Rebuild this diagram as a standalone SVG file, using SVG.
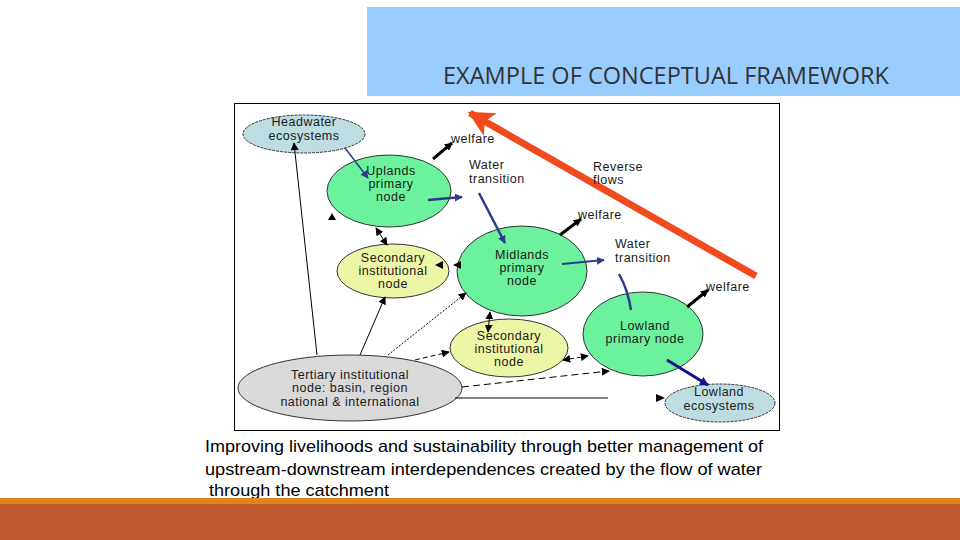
<svg xmlns="http://www.w3.org/2000/svg" width="960" height="540" viewBox="0 0 960 540">
<style>
.lbl{font-family:"Liberation Sans",Arial,sans-serif;font-size:12.5px;letter-spacing:0.5px;fill:#1a1a1a;text-anchor:middle}
.free{font-family:"Liberation Sans",Arial,sans-serif;font-size:12.5px;letter-spacing:0.5px;fill:#1a1a1a}
.ell{stroke:#333;stroke-width:1}
.green{fill:#6CF29C}
.yellow{fill:#EDF5A6}
.blue{fill:#BEDDE3}
.grey{fill:#D9D9D9}
.k{stroke:#000;fill:none}
.b{stroke:#2E3A8C;fill:none}
.caption{font-family:"Liberation Sans",Arial,sans-serif;font-size:17px;fill:#000}
</style>
<defs>
<marker id="ak" viewBox="0 0 10 10" refX="9" refY="5" markerWidth="8" markerHeight="8" markerUnits="userSpaceOnUse" orient="auto-start-reverse"><path d="M0,0 L10,5 L0,10 z" fill="#000"/></marker>
<marker id="au" viewBox="0 0 10 10" refX="9" refY="5" markerWidth="8" markerHeight="8" markerUnits="userSpaceOnUse" orient="auto"><path d="M0,0 L10,5 L0,10 z" fill="#2E3A8C"/></marker>
<marker id="ad" viewBox="0 0 10 10" refX="9" refY="5" markerWidth="9" markerHeight="9" markerUnits="userSpaceOnUse" orient="auto"><path d="M0,0 L10,5 L0,10 z" fill="#14148C"/></marker>
<marker id="ar" viewBox="0 0 10 10" refX="9" refY="5" markerWidth="26" markerHeight="26" markerUnits="userSpaceOnUse" orient="auto"><path d="M0,0 L10,5 L0,10 L2.5,5 z" fill="#F04A1E"/></marker>
</defs>
<rect x="0" y="0" width="960" height="540" fill="#fff"/>
<g id="title">
<rect x="367" y="7" width="593" height="89" fill="#99CCFF"/>
<text x="666" y="84" font-family="'Open Sans','Liberation Sans',sans-serif" font-size="23" fill="#333" text-anchor="middle" textLength="446" lengthAdjust="spacingAndGlyphs">EXAMPLE OF CONCEPTUAL FRAMEWORK</text>
</g>
<rect id="frame" x="234.5" y="103.5" width="545" height="327" fill="#fff" stroke="#000" stroke-width="1"/>
<g id="headwater">
<ellipse class="ell blue" cx="304" cy="134" rx="61" ry="19" stroke-dasharray="3,1"/>
<text class="lbl" x="304" y="126">Headwater</text>
<text class="lbl" x="304" y="140">ecosystems</text>
</g>
<g id="uplands">
<ellipse class="ell green" cx="389" cy="191" rx="62" ry="36"/>
<text class="lbl" x="391" y="175">Uplands</text>
<text class="lbl" x="391" y="188">primary</text>
<text class="lbl" x="391" y="201">node</text>
</g>
<g id="secondary-left">
<ellipse class="ell yellow" cx="393" cy="271" rx="56" ry="27"/>
<text class="lbl" x="393" y="262">Secondary</text>
<text class="lbl" x="393" y="275">institutional</text>
<text class="lbl" x="393" y="288">node</text>
</g>
<g id="midlands">
<ellipse class="ell green" cx="522" cy="271" rx="65" ry="45"/>
<text class="lbl" x="522" y="259">Midlands</text>
<text class="lbl" x="522" y="272">primary</text>
<text class="lbl" x="522" y="285">node</text>
</g>
<g id="secondary-mid">
<ellipse class="ell yellow" cx="509" cy="348" rx="59" ry="29"/>
<text class="lbl" x="509" y="340">Secondary</text>
<text class="lbl" x="509" y="353">institutional</text>
<text class="lbl" x="509" y="366">node</text>
</g>
<g id="lowland">
<ellipse class="ell green" cx="643" cy="334" rx="60" ry="42"/>
<text class="lbl" x="645" y="330">Lowland</text>
<text class="lbl" x="645" y="343">primary node</text>
</g>
<g id="lowland-eco">
<ellipse class="ell blue" cx="720" cy="403" rx="55" ry="19" stroke-dasharray="3,1"/>
<text class="lbl" x="719" y="396">Lowland</text>
<text class="lbl" x="719" y="410">ecosystems</text>
</g>
<g id="tertiary">
<ellipse class="ell grey" cx="350" cy="388" rx="112" ry="33"/>
<text class="lbl" x="350" y="379">Tertiary institutional</text>
<text class="lbl" x="350" y="392">node: basin, region</text>
<text class="lbl" x="350" y="406">national &amp; international</text>
</g>
<g id="connectors">
<path class="k" d="M317,355 L294,143" stroke-width="1" marker-end="url(#ak)"/>
<polygon points="332,213 328,220 336,220" fill="#000"/>
<path class="b" d="M345,148 L368,178" stroke-width="1.5" marker-end="url(#au)"/>
<path class="k" d="M433,159 L452,143" stroke-width="3" marker-end="url(#ak)"/>
<path class="b" d="M428,200 L462,197" stroke-width="2.5" marker-end="url(#au)"/>
<path class="b" d="M479,193 L505,243" stroke-width="2.5" marker-end="url(#au)"/>
<path class="k" d="M560,235 L581,219" stroke-width="3" marker-end="url(#ak)"/>
<path class="b" d="M562,264 L604,260" stroke-width="2" marker-end="url(#au)"/>
<path class="b" d="M619,274 Q628,290 631,310" stroke-width="2.5"/>
<path class="k" d="M687,307 L708,290" stroke-width="3" marker-end="url(#ak)"/>
<path d="M667,360 L708,385" stroke="#14148C" stroke-width="3" fill="none" marker-end="url(#ad)"/>
<path class="k" d="M376,228 L387,245" stroke-width="1" marker-start="url(#ak)" marker-end="url(#ak)"/>
<polygon points="435,265 443,261 443,269" fill="#000"/>
<polygon points="453,265 461,261 461,269" fill="#000"/>
<path class="k" d="M360,355 L385,297" stroke-width="1" marker-end="url(#ak)"/>
<path class="k" d="M388,355 L466,293" stroke-width="1" stroke-dasharray="2,1.5" marker-end="url(#ak)"/>
<path class="k" d="M415,360 L449,352" stroke-width="1" stroke-dasharray="5,3" marker-end="url(#ak)"/>
<path class="k" d="M490,312 L488,332" stroke-width="1" marker-start="url(#ak)" marker-end="url(#ak)"/>
<path class="k" d="M563,360 L588,356" stroke-width="1" stroke-dasharray="4,3" marker-start="url(#ak)" marker-end="url(#ak)"/>
<path class="k" d="M462,387 L609,371" stroke-width="1" stroke-dasharray="7,4" marker-end="url(#ak)"/>
<path class="k" d="M455,398 L608,398" stroke-width="1"/>
<polygon points="665,398 656,394 656,402" fill="#000"/>
<path d="M756,276 L470,113" stroke="#F04A1E" stroke-width="7" fill="none" marker-end="url(#ar)"/>
</g>
<g id="labels">
<text class="free" x="451" y="143">welfare</text>
<text class="free" x="469" y="169">Water</text>
<text class="free" x="469" y="183">transition</text>
<text class="free" x="593" y="171">Reverse</text>
<text class="free" x="593" y="184">flows</text>
<text class="free" x="578" y="219">welfare</text>
<text class="free" x="615" y="248">Water</text>
<text class="free" x="615" y="262">transition</text>
<text class="free" x="706" y="291">welfare</text>
</g>
<g id="caption">
<text class="caption" x="205" y="452" textLength="558" lengthAdjust="spacingAndGlyphs">Improving livelihoods and sustainability through better management of</text>
<text class="caption" x="205" y="475" textLength="557" lengthAdjust="spacingAndGlyphs">upstream-downstream  interdependences created by the flow of water</text>
<text class="caption" x="209" y="496" textLength="180" lengthAdjust="spacingAndGlyphs">through the catchment</text>
</g>
<g id="footer">
<rect x="0" y="498" width="960" height="6" fill="#E0861A"/>
<rect x="0" y="504" width="960" height="36" fill="#BE5A2E"/>
</g>
</svg>
